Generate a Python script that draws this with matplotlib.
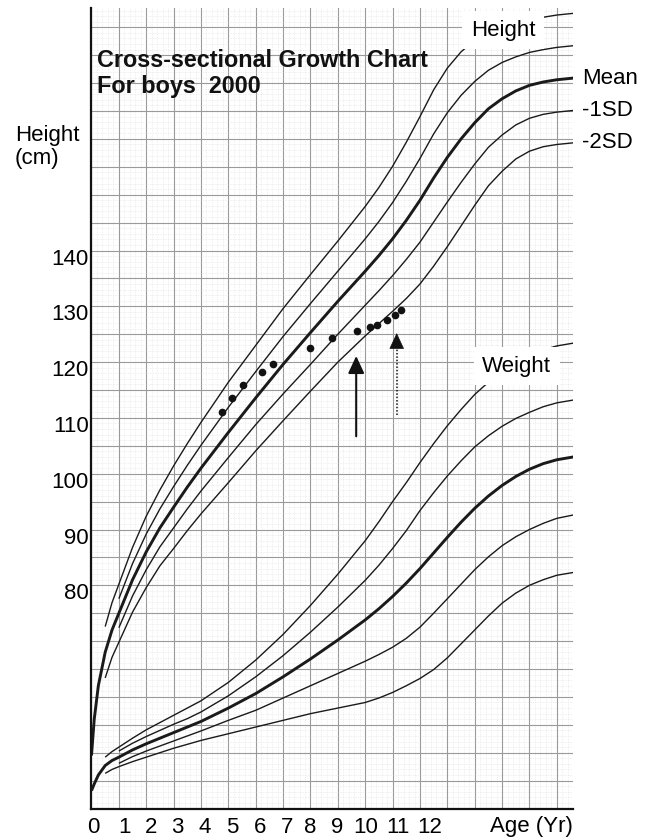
import numpy as np
import matplotlib.pyplot as plt
from matplotlib.ticker import MultipleLocator
import matplotlib.transforms as mtransforms

plt.rcParams['font.family'] = ['Liberation Sans', 'DejaVu Sans']

nan = np.nan

# 年齢 (歳)
ages = [0, 0.1, 0.25, 0.5, 0.75, 1, 1.5, 2, 2.5, 3, 3.5, 4, 5, 6, 7, 8, 9, 10,
        10.5, 11, 11.5, 12, 12.5, 13, 13.5, 14, 14.5, 15, 15.5, 16, 16.5, 17, 17.6]

# 身長 (cm)
height_p2 = [nan, nan, nan, 72.6, 76.9, 80.2, 86.8, 92.4, 97.1, 101.4, 105.4, 109.2,
             116.4, 123.0, 129.6, 135.7, 141.7, 147.9, 151.3, 155.1, 159.4, 164.0,
             168.8, 172.7, 175.6, 177.7, 179.2, 180.2, 180.8, 181.4, 181.8, 182.2, 182.5]
height_p1 = [nan, nan, nan, nan, nan, 77.6, 83.9, 89.2, 93.7, 97.7, 101.5, 105.1,
             111.9, 118.3, 124.6, 130.5, 136.3, 142.1, 145.2, 148.6, 152.4, 156.5,
             160.9, 164.7, 167.8, 170.3, 172.3, 173.7, 174.7, 175.5, 176.0, 176.4, 176.7]
height_mean = [49.5, 56.0, 62.0, 68.0, 72.0, 75.0, 81.0, 86.0, 90.3, 94.0, 97.6, 101.0,
               107.4, 113.6, 119.6, 125.3, 130.9, 136.3, 139.1, 142.1, 145.4, 149.0,
               153.0, 156.7, 160.0, 162.9, 165.4, 167.2, 168.6, 169.6, 170.2, 170.6, 170.9]
height_m1 = [nan, nan, nan, nan, nan, 72.4, 78.1, 82.8, 86.9, 90.3, 93.7, 96.9,
             102.9, 108.8, 114.3, 119.6, 125.0, 130.2, 132.8, 135.5, 138.4, 141.5,
             145.1, 148.7, 152.2, 155.5, 158.5, 160.7, 162.5, 163.7, 164.4, 164.8, 165.1]
height_m2 = [nan, nan, nan, 63.4, 67.1, 69.8, 75.2, 79.6, 83.5, 86.6, 89.8, 92.8,
             98.4, 104.1, 109.5, 114.8, 120.0, 124.7, 126.9, 129.1, 131.4, 134.0,
             137.2, 140.7, 144.4, 148.1, 151.6, 154.2, 156.4, 157.8, 158.6, 159.0, 159.3]

# 体重 (kg)
weight_p2 = [nan, nan, nan, 9.2, 10.2, 11.0, 12.6, 14.1, 15.4, 16.7, 18.0, 19.3,
             22.6, 26.6, 31.2, 36.4, 42.0, 48.0, 51.4, 55.0, 58.4, 62.0,
             65.4, 68.6, 71.5, 74.2, 76.4, 78.3, 79.9, 81.2, 82.2, 82.9, 83.4]
weight_p1 = [nan, nan, nan, nan, nan, 10.3, 11.7, 12.9, 14.0, 15.1, 16.1, 17.3,
             20.2, 23.6, 27.4, 31.6, 36.1, 40.9, 43.6, 46.6, 49.8, 53.4,
             56.6, 59.6, 62.3, 64.8, 66.8, 68.5, 69.9, 71.0, 72.0, 72.7, 73.2]
weight_mean = [3.2, 4.4, 6.0, 7.7, 8.6, 9.2, 10.5, 11.6, 12.6, 13.6, 14.6, 15.6,
               18.0, 20.6, 23.6, 26.8, 30.2, 33.8, 35.8, 38.0, 40.4, 43.0,
               45.8, 48.6, 51.3, 53.8, 56.0, 57.9, 59.5, 60.8, 61.8, 62.5, 63.0]
weight_m1 = [nan, nan, nan, nan, nan, 8.1, 9.3, 10.3, 11.2, 12.1, 13.0, 13.9,
             15.8, 17.6, 19.8, 22.0, 24.2, 26.4, 27.6, 28.9, 30.5, 32.5,
             35.0, 37.6, 40.2, 42.8, 45.1, 47.1, 48.7, 50.0, 51.1, 52.0, 52.6]
weight_m2 = [nan, nan, nan, 6.3, 7.0, 7.5, 8.4, 9.2, 10.0, 10.8, 11.5, 12.2,
             13.4, 14.6, 15.8, 17.0, 18.0, 19.0, 19.8, 20.8, 22.0, 23.3,
             24.9, 27.0, 29.5, 32.0, 34.5, 36.8, 38.6, 40.0, 41.0, 41.8, 42.3]

# 実測値
obs_age = [4.75, 5.14, 5.55, 6.22, 6.62, 7.98, 8.77, 9.69, 10.17, 10.44, 10.8, 11.07, 11.32]
obs_height = [111.1, 113.5, 115.9, 118.2, 119.7, 122.5, 124.4, 125.6, 126.3, 126.6, 127.5, 128.4, 129.3]

# 矢印
arrow_age = [9.67, 11.15]
arrow_from = [106.7, 110.5]
arrow_to = [121.1, 125.2]

# 目盛り
x_ticks = list(range(0, 18))
x_labels = [str(i) for i in range(0, 13)] + [''] * 5
y_ticks = list(range(40, 185, 5))
y_labels = [str(v) if v % 10 == 0 and 80 <= v <= 140 else '' for v in y_ticks]

sd_names = ['Mean', '-1SD', '-2SD']

line_col = '#1a1a1a'

fig = plt.figure(figsize=(6.48, 8.38), dpi=100)
ax = fig.add_axes([91.5 / 648, 29.5 / 838, 481.5 / 648, 800.5 / 838])
ax.set_xlim(0, 17.59)
ax.set_ylim(40, 183.46)

ax_w = ax.twinx()
ax_w.set_ylim(0, 143.46)
ax_w.axis('off')

# グリッド
ax.set_xticks(x_ticks)
ax.set_xticklabels(x_labels, fontsize=16)
ax.set_yticks(y_ticks)
ax.set_yticklabels(y_labels, fontsize=16)
ax.xaxis.set_minor_locator(MultipleLocator(0.2))
ax.yaxis.set_minor_locator(MultipleLocator(1))
ax.tick_params(which='both', length=0)
ax.tick_params(axis='x', pad=6)
ax.tick_params(axis='y', pad=2)
ax.grid(True, which='major', color='#9a9a9a', lw=0.8)
ax.grid(True, which='minor', color='#d4d4d4', lw=0.4, ls=(0, (1, 2)))
ax.set_axisbelow(True)
for lab in ax.get_yticklabels():
    lab.set_transform(lab.get_transform() + mtransforms.ScaledTranslation(0, -0.06, fig.dpi_scale_trans))
# 年齢ラベルは格子線から少しずれて印刷されている (px)
x_label_shift = [1.5, 6, 5, 4, 4, 3.5, 4, 4, 0, -1, 0, 5, 10, 0, 0, 0, 0, 0]
for dx, lab in zip(x_label_shift, ax.get_xticklabels()):
    lab.set_transform(lab.get_transform() + mtransforms.ScaledTranslation(dx / 100, 0, fig.dpi_scale_trans))

for s in ['top', 'right']:
    ax.spines[s].set_visible(False)
for s in ['left', 'bottom']:
    ax.spines[s].set_linewidth(1.6)
    ax.spines[s].set_color('#111111')

# 身長曲線
for vals, lw in [(height_p2, 1.0), (height_p1, 1.0), (height_mean, 2.1),
                 (height_m1, 1.0), (height_m2, 1.0)]:
    ax.plot(ages, vals, color=line_col, lw=lw, solid_capstyle='butt', zorder=2)

# 体重曲線
for vals, lw in [(weight_p2, 1.0), (weight_p1, 1.0), (weight_mean, 2.1),
                 (weight_m1, 1.0), (weight_m2, 1.0)]:
    ax_w.plot(ages, vals, color=line_col, lw=lw, solid_capstyle='butt', zorder=2)

# 実測値
ax.plot(obs_age, obs_height, 'o', color='#111111', ms=4.5, zorder=4)

# 矢印 (実線と点線)
ax.annotate('', xy=(arrow_age[0], arrow_to[0]), xytext=(arrow_age[0], arrow_from[0]),
            arrowprops=dict(arrowstyle='-|>,head_length=0.75,head_width=0.35',
                            color='#111111', lw=1.5, mutation_scale=14, shrinkA=0, shrinkB=0))
ax.plot([arrow_age[1], arrow_age[1]], [arrow_from[1], arrow_to[1] - 2], color='#111111',
        lw=1.1, ls=(0, (1, 1.2)))
ax.annotate('', xy=(arrow_age[1], arrow_to[1]), xytext=(arrow_age[1], arrow_to[1] - 2.2),
            arrowprops=dict(arrowstyle='-|>,head_length=0.75,head_width=0.35',
                            color='#111111', lw=0.5, mutation_scale=14, shrinkA=0, shrinkB=0))

# ラベル
ax.text(15.03, 179.5, 'Height', fontsize=16, ha='center', va='center', zorder=5,
        bbox=dict(facecolor='white', edgecolor='none', pad=6))
ax_w.text(15.54, 79.3, 'Weight', fontsize=16, ha='center', va='center', zorder=5,
          bbox=dict(facecolor='white', edgecolor='none', pad=6))
for name, vals in zip(sd_names, [height_mean, height_m1, height_m2]):
    ax.text(17.92, vals[-1], name, fontsize=16, ha='left', va='center', clip_on=False)

ax.text(0.2, 176.2, 'Cross-sectional Growth Chart\nFor boys  2000', fontsize=16.8,
        fontweight='bold', ha='left', va='top', linespacing=1.22, color='#111111')

fig.text(15 / 648, 1 - 125 / 838, 'Height\n(cm)', fontsize=16, ha='left', va='top',
         linespacing=1.1)
fig.text(531 / 648, 1 - 826 / 838, 'Age (Yr)', fontsize=16, ha='center', va='center')

fig.savefig('out.png', dpi=100)
